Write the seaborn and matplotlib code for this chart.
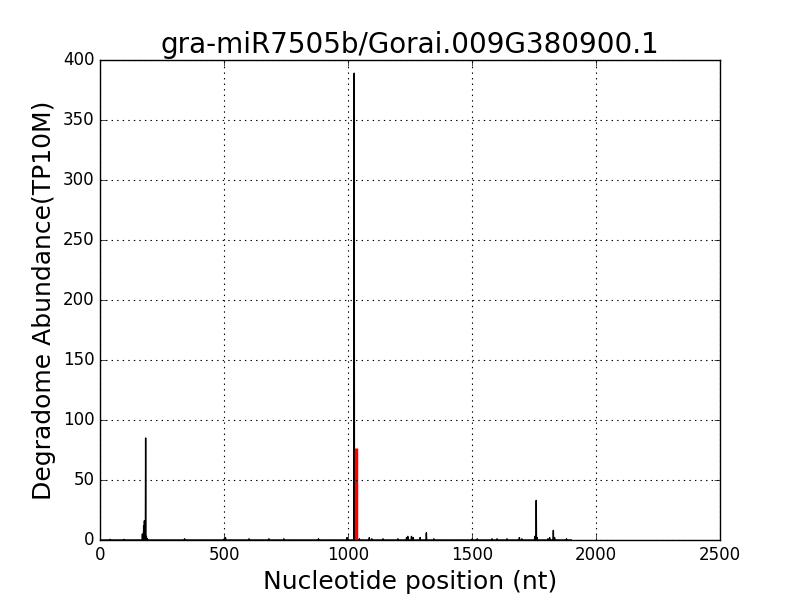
import matplotlib
matplotlib.use('Agg')
import matplotlib.pyplot as plt
import numpy as np
import pandas as pd
import seaborn as sns

# transcript length and degradome peaks (position, TP10M)
transcript_len = 1900
peak_pos = [40, 95, 170, 175, 178, 180, 183, 186, 190, 340, 500, 505, 600, 680, 740, 880,
            995, 1024, 1045, 1085, 1095, 1140, 1200, 1235, 1240, 1255, 1262, 1290, 1315, 1345,
            1500, 1520, 1580, 1600, 1640, 1690, 1700, 1752, 1758, 1762, 1805, 1812, 1827, 1832, 1880]
peak_val = [0.5, 0.5, 5, 12, 16, 10, 85, 3, 1, 1, 1, 2, 1, 1, 1, 1,
            2, 389, 1, 2, 1, 1, 1, 2, 3, 3, 2, 2, 6, 1,
            1, 1, 1, 1, 1, 2, 1, 3, 33, 2, 1, 2, 8, 2, 1]

# cleavage site (red)
site_pos = 1032
site_val = 77

signal = np.zeros(transcript_len)
for p, v in zip(peak_pos, peak_val):
    signal[p] = v
df = pd.DataFrame({'pos': np.arange(1, transcript_len + 1), 'val': signal})

plt.style.use('classic')
fig, ax = plt.subplots(figsize=(8, 6), dpi=100)
sns.lineplot(data=df, x='pos', y='val', color='black', linewidth=1, ax=ax)
ax.vlines(site_pos, 0, site_val, color='red', linewidth=2.5)

ax.set_xlim(0, 2500)
ax.set_ylim(0, 400)
ax.set_title('gra-miR7505b/Gorai.009G380900.1', fontsize=20)
ax.set_xlabel('Nucleotide position (nt)', fontsize=18)
ax.set_ylabel('Degradome Abundance(TP10M)', fontsize=18)
ax.grid(True, color='black', linestyle=':', linewidth=0.8)
ax.tick_params(labelsize=12)
fig.subplots_adjust(left=0.125, right=0.9, bottom=0.1, top=0.9)
fig.savefig('out.png', dpi=100)
